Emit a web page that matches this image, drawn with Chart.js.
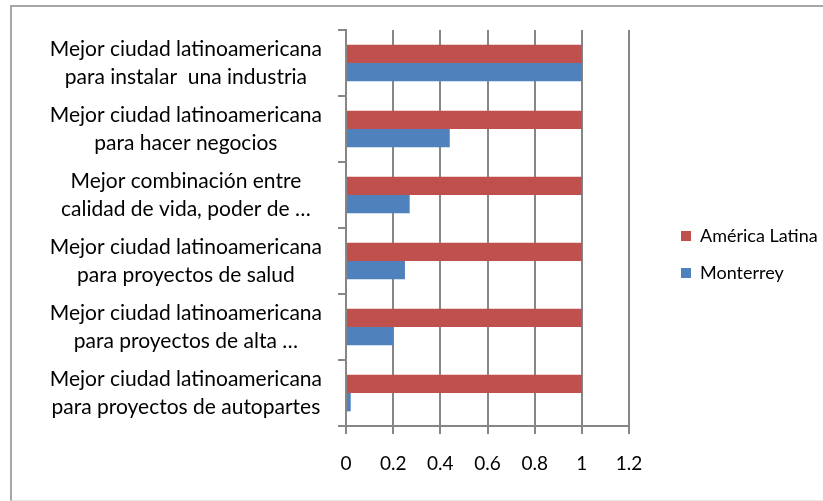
<!DOCTYPE html>
<html>
<head>
<meta charset="utf-8">
<script src="https://cdn.jsdelivr.net/npm/chart.js@4/dist/chart.umd.min.js"></script>
<style>
  html, body { margin: 0; padding: 0; background: #fff; }
  #wrap { position: relative; width: 823px; height: 501px; overflow: hidden; }
  #frame { position: absolute; left: 10px; top: 5px; width: 830px; height: 493px;
           border-top: 2px solid #a6a6a6; border-left: 2px solid #a6a6a6; border-bottom: 1px solid #e8e8e8; }
  #c { position: absolute; left: 0; top: 0; }
</style>
</head>
<body>
<div id="wrap">
  <div id="frame"></div>
  <canvas id="c" width="823" height="501"></canvas>
</div>
<script>
const categories = [
  ['Mejor ciudad latinoamericana', 'para instalar  una industria'],
  ['Mejor ciudad latinoamericana', 'para hacer negocios'],
  ['Mejor combinación entre', 'calidad de vida, poder de …'],
  ['Mejor ciudad latinoamericana', 'para proyectos de salud'],
  ['Mejor ciudad latinoamericana', 'para proyectos de alta …'],
  ['Mejor ciudad latinoamericana', 'para proyectos de autopartes']
];
const seriesNames = ['América Latina', 'Monterrey'];
const americaLatina = [1, 1, 1, 1, 1, 1];
const monterrey = [1, 0.44, 0.27, 0.25, 0.2, 0.02];
const xTickLabels = ['0', '0.2', '0.4', '0.6', '0.8', '1', '1.2'];

const gridColor = '#868686';
const fontFamily = 'Lato, "Liberation Sans", sans-serif';

new Chart(document.getElementById('c'), {
  type: 'bar',
  data: {
    labels: categories,
    datasets: [
      { label: seriesNames[0], data: americaLatina, backgroundColor: '#C0504D', borderWidth: 0,
        barPercentage: 1, categoryPercentage: 0.555 },
      { label: seriesNames[1], data: monterrey, backgroundColor: '#4F81BD', borderWidth: 0,
        barPercentage: 1, categoryPercentage: 0.555 }
    ]
  },
  options: {
    indexAxis: 'y',
    responsive: false,
    animation: false,
    layout: { padding: { top: 30, bottom: 22, left: 0, right: 0 } },
    plugins: {
      tooltip: { enabled: false },
      legend: {
        position: 'right',
        maxWidth: 161,
        labels: {
          boxWidth: 10, boxHeight: 10, padding: 19, color: '#000',
          font: { family: fontFamily, size: 18 }
        }
      }
    },
    scales: {
      y: {
        type: 'category',
        position: 'left',
        grid: { drawOnChartArea: false, drawTicks: true, tickLength: 8, color: gridColor, lineWidth: 2, offset: true },
        border: { display: true, color: gridColor, width: 2 },
        ticks: { color: '#000', padding: 16, crossAlign: 'center',
                 font: { family: fontFamily, size: 21, lineHeight: 1.333 } },
        afterFit: (s) => { s.width = 346; s.paddingTop = 0; s.paddingBottom = 0; }
      },
      x: {
        type: 'linear',
        position: 'bottom',
        min: 0, max: 1.2,
        grid: { drawOnChartArea: true, drawTicks: true, tickLength: 8, color: gridColor, lineWidth: 2 },
        border: { display: true, color: gridColor, width: 2 },
        ticks: { stepSize: 0.2, color: '#000', padding: 18, maxRotation: 0,
                 font: { family: fontFamily, size: 19, lineHeight: 1.2 },
                 callback: (v, i) => xTickLabels[i] },
        afterFit: (s) => { s.height = 53; s.paddingLeft = 0; s.paddingRight = 0; }
      },
      gap: {
        type: 'linear',
        axis: 'y',
        position: 'right',
        display: true,
        grid: { display: false },
        border: { display: false },
        ticks: { display: false },
        afterFit: (s) => { s.width = 33; s.paddingTop = 0; s.paddingBottom = 0; }
      }
    }
  }
});
</script>
</body>
</html>
